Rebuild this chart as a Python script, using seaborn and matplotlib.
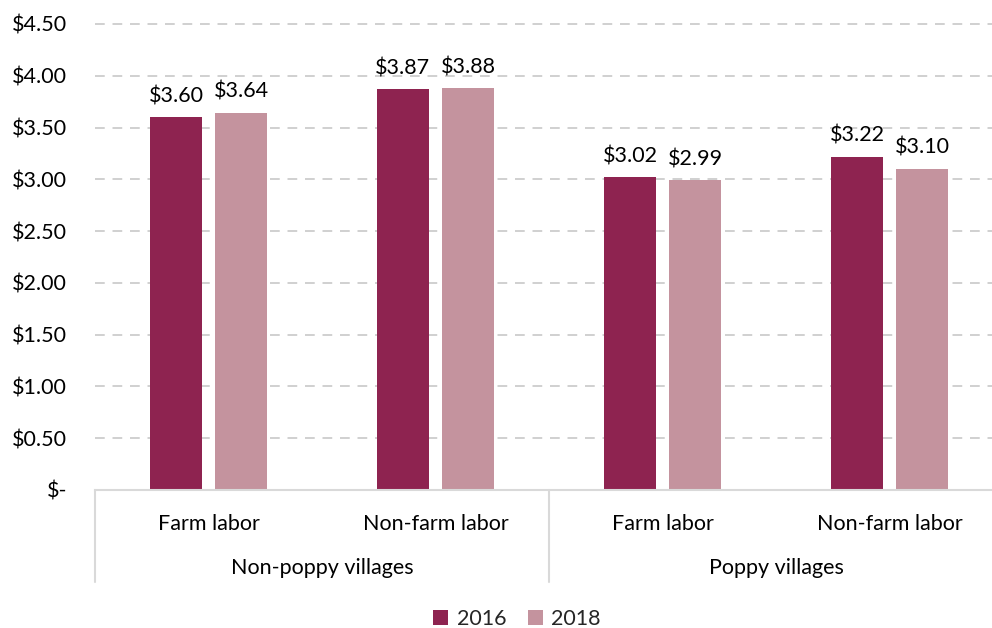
import matplotlib
matplotlib.use("Agg")
import matplotlib.pyplot as plt
import matplotlib.transforms as mtransforms
from matplotlib.patches import Patch
import seaborn as sns
import pandas as pd

# ---- data ----
groups = ["Non-poppy villages", "Non-poppy villages", "Poppy villages", "Poppy villages"]
labor = ["Farm labor", "Non-farm labor", "Farm labor", "Non-farm labor"]
years = ["2016", "2018"]
values_2016 = [3.60, 3.87, 3.02, 3.22]
values_2018 = [3.64, 3.88, 2.99, 3.10]
yticks = [0, 0.5, 1.0, 1.5, 2.0, 2.5, 3.0, 3.5, 4.0, 4.5]
ytick_labels = ["$-", "$0.50", "$1.00", "$1.50", "$2.00", "$2.50", "$3.00", "$3.50", "$4.00", "$4.50"]
group_names = ["Non-poppy villages", "Poppy villages"]

colors = {"2016": "#8E2350", "2018": "#C4939E"}

keys = [f"{g}|{l}" for g, l in zip(groups, labor)]
rows = []
for k, v in zip(keys, values_2016):
    rows.append({"cat": k, "year": "2016", "value": v})
for k, v in zip(keys, values_2018):
    rows.append({"cat": k, "year": "2018", "value": v})
df = pd.DataFrame(rows)

sns.set_theme(style="white")
plt.rcParams["font.family"] = ["Lato", "DejaVu Sans"]

FS = 15.5
W, H = 992, 628
fig = plt.figure(figsize=(W / 100, H / 100), dpi=100)
left, right, bottom, top = 95, 1003, 490, 24
ax = fig.add_axes([left / W, (H - bottom) / H, (right - left) / W, (bottom - top) / H])

sns.barplot(data=df, x="cat", y="value", hue="year", order=keys, hue_order=years,
            palette=colors, width=0.573, gap=0.215, ax=ax, legend=False,
            saturation=1, errorbar=None, edgecolor="none")

ax.set_xlim(-0.5, 3.5)
ax.set_ylim(0, 4.5)
ax.set_yticks(yticks)
ax.set_yticklabels(ytick_labels, fontsize=FS, color="#000000")
ax.tick_params(axis="y", length=0, pad=20)
for lbl in ax.get_yticklabels():
    lbl.set_horizontalalignment("right")

ax.set_xticks(range(len(keys)))
ax.set_xticklabels(labor, fontsize=FS, color="#000000")
ax.tick_params(axis="x", length=0, pad=17)
ax.set_xlabel("")
ax.set_ylabel("")

for y in yticks[1:]:
    ax.axhline(y, color="#D0D0D0", lw=1.4, ls=(0, (5, 4)), zorder=0, clip_on=False)

for s in ["top", "right", "left"]:
    ax.spines[s].set_visible(False)
ax.spines["bottom"].set_color("#D9D9D9")
ax.spines["bottom"].set_linewidth(1.5)

# value labels
for cont, vals in zip(ax.containers, [values_2016, values_2018]):
    ax.bar_label(cont, labels=[f"${v:.2f}" for v in vals], padding=8, fontsize=FS, color="#000000")

# group separators and group labels
trans = mtransforms.blended_transform_factory(ax.transData, ax.transAxes)
sep_depth = -(582 - 490) / (bottom - top)
for xs in [-0.5, 1.5, 3.5]:
    ax.plot([xs, xs], [0, sep_depth], transform=trans, color="#D9D9D9", lw=1.5, clip_on=False)
for i, g in enumerate(group_names):
    ax.text(0.5 + 2 * i, -(568 - 490) / (bottom - top), g, transform=trans,
            ha="center", va="center", fontsize=FS, color="#000000")

handles = [Patch(facecolor=colors[y], edgecolor="none", label=y) for y in years]
fig.legend(handles=handles, loc="center", bbox_to_anchor=(517 / W, (H - 619) / H), ncol=2,
           frameon=False, fontsize=FS, handlelength=0.7, handleheight=0.7,
           handletextpad=0.4, columnspacing=1.0, borderpad=0)

fig.savefig("out.png", dpi=100)
